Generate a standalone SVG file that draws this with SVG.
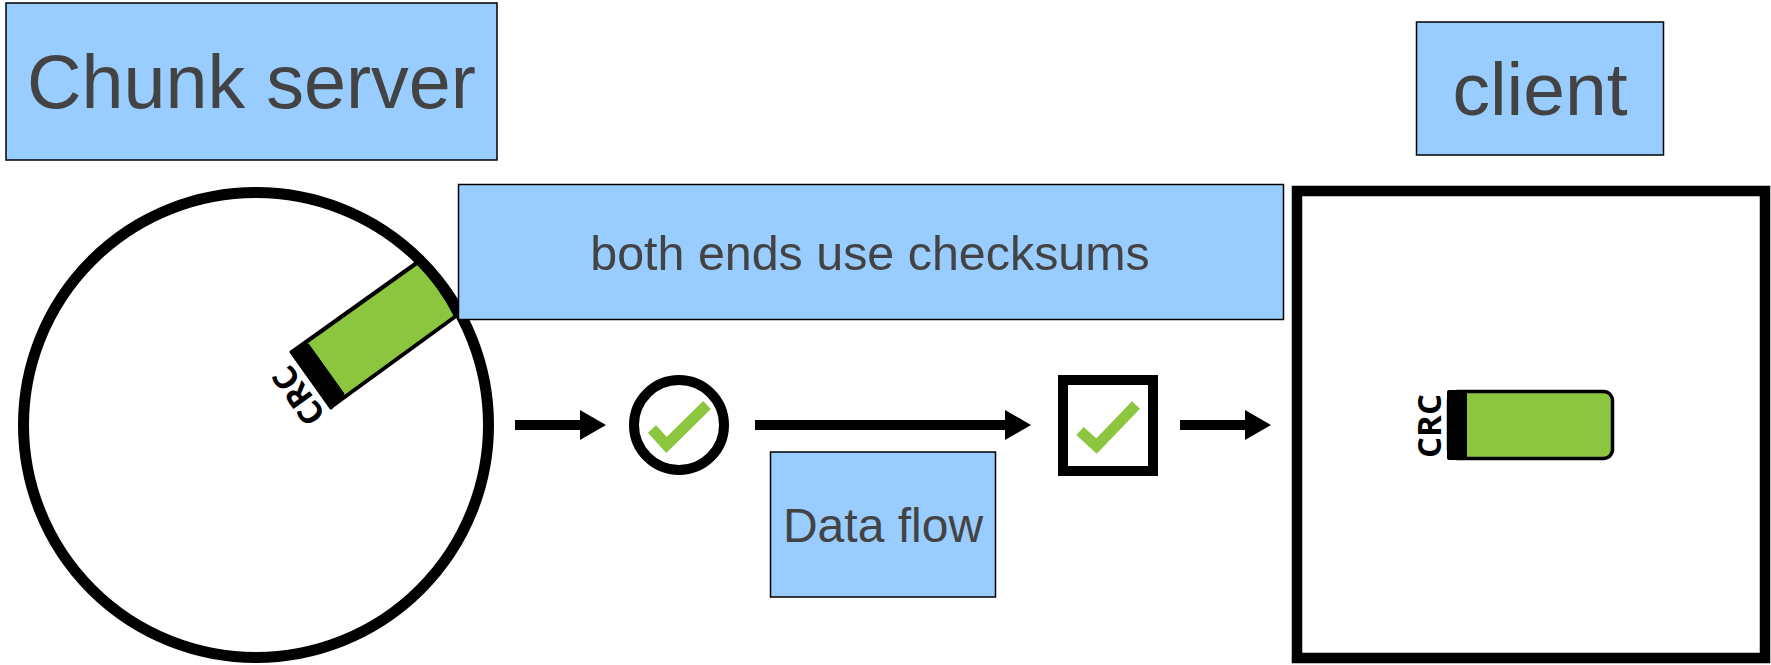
<svg xmlns="http://www.w3.org/2000/svg" width="1771" height="665" viewBox="0 0 1771 665">
<style>
.box{fill:#99ccff;stroke:#000;stroke-width:1.5}
.lbl{font-family:"Liberation Sans",Arial,sans-serif;fill:#434343;text-anchor:middle}
.crc{font-family:"Open Sans",sans-serif;font-weight:700;font-size:33px;fill:#000;text-anchor:middle}
.tick{fill:none;stroke:#8cc63f;stroke-width:11}
.ln{stroke:#000;stroke-width:10;fill:none}
</style>
<defs><polygon id="head" points="0,-15 26,0 0,15" fill="#000"/></defs>
<g id="disk">
<circle cx="256" cy="425" r="232.500" fill="#fff"/>
<path d="M292,352 L418,262 A228,228 0 0 1 456,316 L331,407 Z" fill="#8cc63f" stroke="#000" stroke-width="4" stroke-linejoin="round"/>
<polygon points="291,352 308,345 343,394 331,408" fill="#000" stroke="#000" stroke-width="3" stroke-linejoin="round"/>
<circle cx="256" cy="425" r="232.500" fill="none" stroke="#000" stroke-width="11"/>
<text class="crc" transform="translate(308,389) rotate(-125.5)">CRC</text>
</g>
<g id="chunk-server"><rect class="box" x="6" y="3" width="491" height="157"/><text class="lbl" x="251.500" y="108" font-size="75.500">Chunk server</text></g>
<g id="client-label"><rect class="box" x="1416.500" y="22" width="247" height="133"/><text class="lbl" x="1540" y="115" font-size="75">client</text></g>
<g id="both-ends"><rect class="box" x="458.500" y="184.500" width="825" height="135"/><text class="lbl" x="870" y="270" font-size="48.400">both ends use checksums</text></g>
<g id="data-flow"><rect class="box" x="770.500" y="452" width="225" height="145"/><text class="lbl" x="883" y="542" font-size="48">Data flow</text></g>
<g id="check-circle"><circle cx="679" cy="425" r="45" fill="#fff" stroke="#000" stroke-width="10"/><polyline class="tick" points="652,429 666.500,445 707,405"/></g>
<g id="check-square"><rect x="1063" y="380" width="90" height="91" fill="#fff" stroke="#000" stroke-width="10"/><polyline class="tick" points="1080,431 1096.500,446 1136,405"/></g>
<g id="client-box"><rect x="1297" y="191" width="468" height="467" fill="#fff" stroke="#000" stroke-width="10.500"/>
<rect x="1448.500" y="391.500" width="164" height="67" rx="9" fill="#8cc63f" stroke="#000" stroke-width="3.500"/>
<rect x="1447" y="390" width="20" height="70" rx="2" fill="#000"/>
<text class="crc" transform="translate(1441,426) rotate(-90)">CRC</text></g>
<g id="connectors">
<line class="ln" x1="515" y1="425" x2="582" y2="425"/><use href="#head" x="580" y="425"/>
<line class="ln" x1="755" y1="425" x2="1007" y2="425"/><use href="#head" x="1005" y="425"/>
<line class="ln" x1="1180" y1="425" x2="1247" y2="425"/><use href="#head" x="1245" y="425"/>
</g>
</svg>
